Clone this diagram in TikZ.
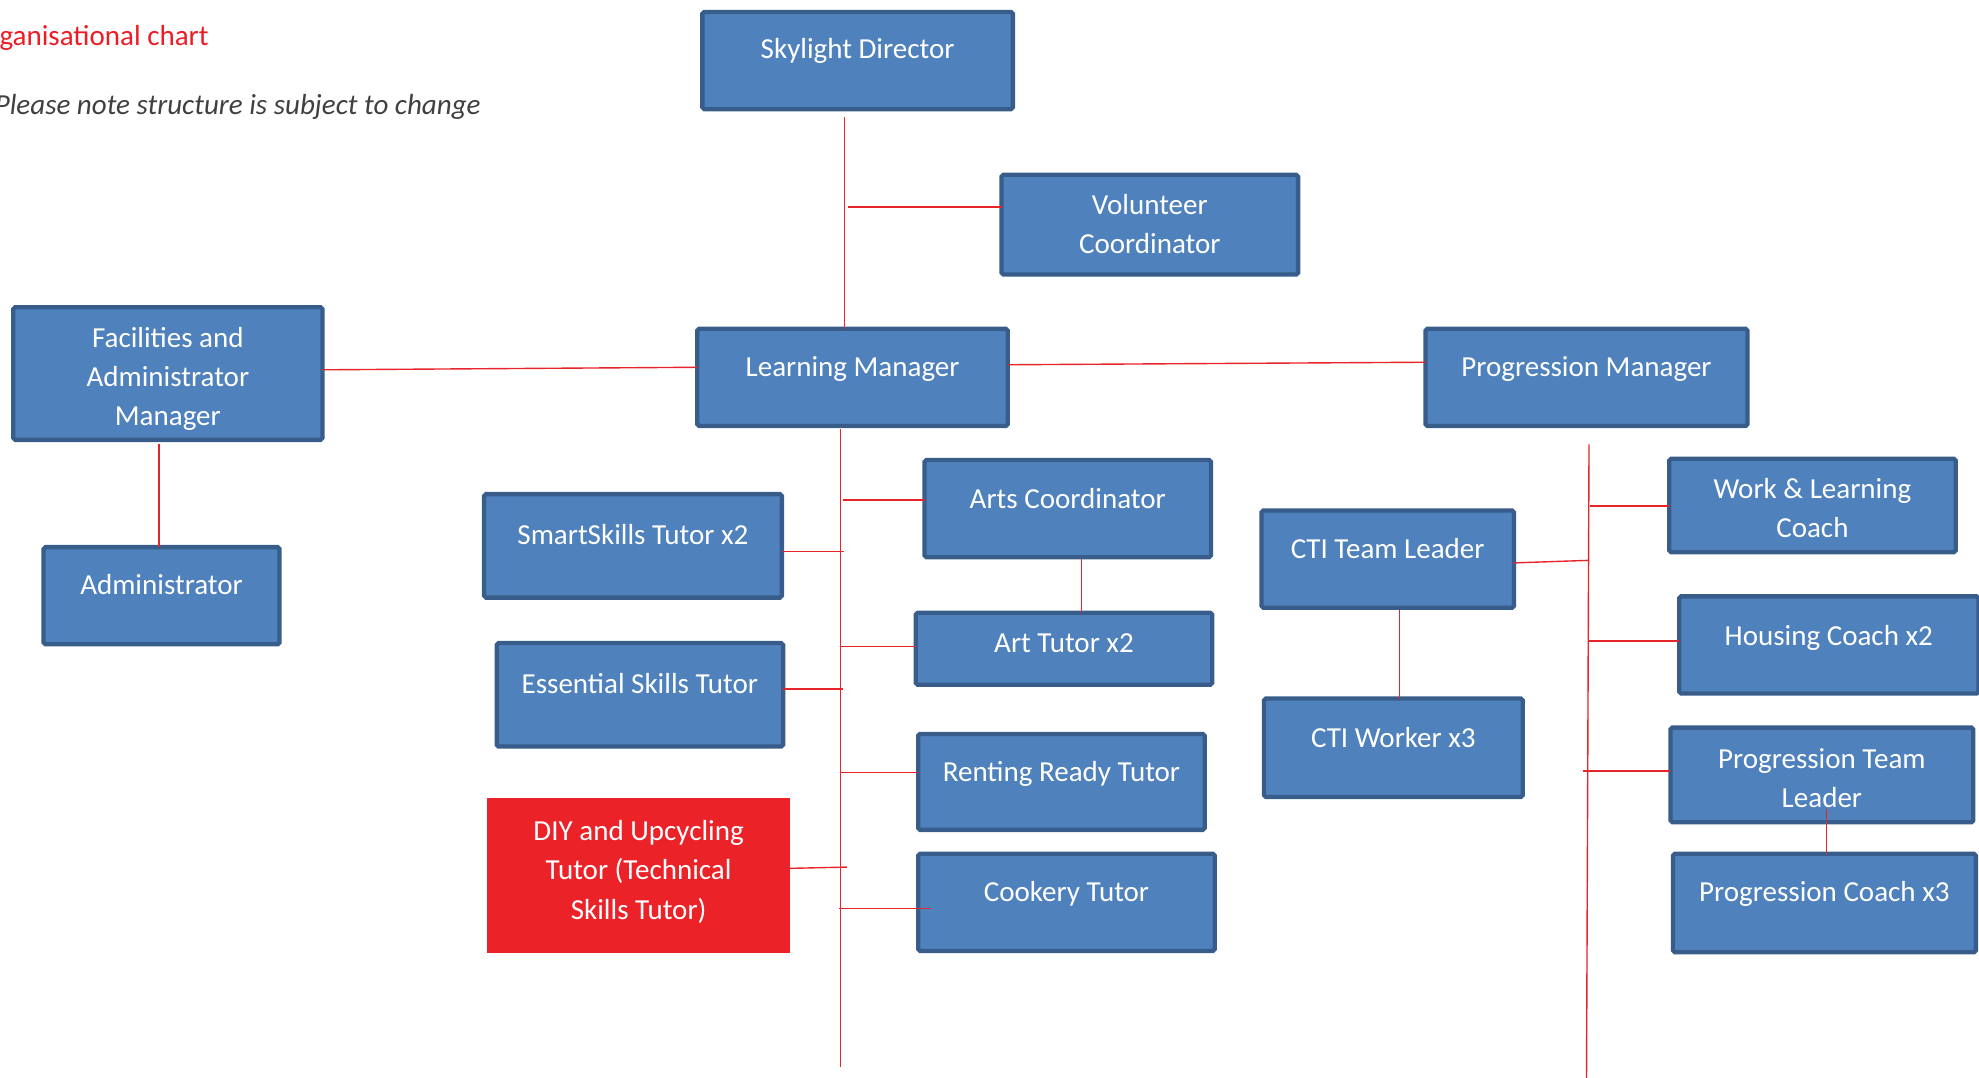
\documentclass[tikz,border=0pt]{standalone}
\usepackage{fontspec}
\setmainfont{Carlito}
\definecolor{boxfill}{HTML}{4F81BD}
\definecolor{boxline}{HTML}{385D8A}
\definecolor{linkred}{HTML}{E8242B}
\definecolor{diyred}{HTML}{EC2229}
\definecolor{titlered}{HTML}{EE1C25}
\definecolor{notegray}{HTML}{404040}
\newcommand\boxfont{\fontsize{23}{31}\selectfont}
\begin{document}
\begin{tikzpicture}[x=1pt,y=-1pt,
  orgbox/.style={draw=boxline, fill=boxfill, line width=3.4pt, rounded corners=1.5pt, inner sep=0pt, outer sep=0pt},
  redbox/.style={fill=diyred, draw=none, inner sep=0pt, outer sep=0pt},
  lbl/.style={text=white, font=\boxfont, align=center, inner sep=0pt, anchor=north, execute at begin node={\rule{0pt}{20pt}}},
  link/.style={draw=linkred, line width=1.1pt}]
\useasboundingbox (0,0) rectangle (1568,854);
\clip (0,0) rectangle (1568,854);

% headings
\node[anchor=base west, text=titlered, font=\boxfont, inner sep=0pt] (title) at (-23.5,36) {Organisational chart};
\node[anchor=base east, text=notegray, font=\boxfont\itshape, inner sep=0pt] (note) at (381,91) {Please note structure is subject to change};

% boxes
\node[orgbox, minimum width=246pt, minimum height=77pt] (sd) at (679.5,48) {};
\node[orgbox, minimum width=235pt, minimum height=79pt] (vc) at (911,178) {};
\node[orgbox, minimum width=245pt, minimum height=105pt] (fam) at (133,296) {};
\node[orgbox, minimum width=246pt, minimum height=77pt] (lm) at (675.5,299) {};
\node[orgbox, minimum width=255pt, minimum height=77pt] (pm) at (1257,299) {};
\node[orgbox, minimum width=187pt, minimum height=77pt] (adm) at (128,472) {};
\node[orgbox, minimum width=236pt, minimum height=82pt] (ss) at (501.5,432.5) {};
\node[orgbox, minimum width=227pt, minimum height=77pt] (ac) at (846,403) {};
\node[orgbox, minimum width=235pt, minimum height=57pt] (at) at (843,514) {};
\node[orgbox, minimum width=227pt, minimum height=82pt] (es) at (507,550.5) {};
\node[orgbox, minimum width=227pt, minimum height=76pt] (rr) at (841,619.5) {};
\node[redbox, minimum width=240pt, minimum height=123pt] (diy) at (506,693.5) {};
\node[orgbox, minimum width=235pt, minimum height=77pt] (ck) at (845,715) {};
\node[orgbox, minimum width=200pt, minimum height=77pt] (ctl) at (1099.5,443) {};
\node[orgbox, minimum width=205pt, minimum height=78pt] (ctw) at (1104,592.5) {};
\node[orgbox, minimum width=227pt, minimum height=74pt] (wl) at (1436,400.5) {};
\node[orgbox, minimum width=237pt, minimum height=77pt] (hc) at (1449,511) {};
\node[orgbox, minimum width=240pt, minimum height=75pt] (ptl) at (1443.5,614) {};
\node[orgbox, minimum width=240pt, minimum height=78pt] (pc) at (1445.5,715.5) {};

% labels
\node[lbl] (sdt) at (679.5,26) {Skylight Director};
\node[lbl] (vct) at (911,154) {Volunteer\\Coordinator};
\node[lbl] (famt) at (133,259) {Facilities and\\Administrator\\Manager};
\node[lbl] (lmt) at (675.5,278) {Learning Manager};
\node[lbl] (pmt) at (1257,278) {Progression Manager};
\node[lbl] (admt) at (128,451) {Administrator};
\node[lbl] (sst) at (501.5,411) {SmartSkills Tutor x2};
\node[lbl] (act) at (846,383) {Arts Coordinator};
\node[lbl] (att) at (843,497) {Art Tutor x2};
\node[lbl] (est) at (507,529) {Essential Skills Tutor};
\node[lbl] (rrt) at (841,599) {Renting Ready Tutor};
\node[lbl] (diyt) at (506,650) {DIY and Upcycling\\Tutor (Technical\\Skills Tutor)};
\node[lbl] (ckt) at (845,694) {Cookery Tutor};
\node[lbl] (ctlt) at (1099.5,422) {CTI Team Leader};
\node[lbl] (ctwt) at (1104,572) {CTI Worker x3};
\node[lbl] (wlt) at (1436,379) {Work \& Learning\\Coach};
\node[lbl] (hct) at (1449,491) {Housing Coach x2};
\node[lbl] (ptlt) at (1443.5,593) {Progression Team\\Leader};
\node[lbl] (pct) at (1445.5,694) {Progression Coach x3};

% connector points
\coordinate (sdl) at (669,93);
\coordinate (vcb) at (672,164);
\coordinate (famb) at (126,352);
\coordinate (lmtop) at (666,340);
\coordinate (lmbot) at (666,845);
\coordinate (s1) at (668,396);
\coordinate (s2) at (669,437);
\coordinate (s3) at (666,512);
\coordinate (s4) at (668,546);
\coordinate (s5) at (666,612);
\coordinate (s6) at (671,687);
\coordinate (s7) at (665,720);
\coordinate (cke) at (738,720);
\coordinate (acb) at (857,443);
\coordinate (pmtop) at (1259,352);
\coordinate (pmbot) at (1257,860);
\coordinate (p1) at (1260,401);
\coordinate (p2) at (1258,444);
\coordinate (p3) at (1258,508);
\coordinate (p4) at (1254,611);
\coordinate (ctlb) at (1109,483);
\coordinate (ptlb) at (1447,641);

% connectors
\draw[link] (sdl) -- (sdl |- lm.north);
\draw[link] (vcb) -- (vcb -| vc.west);
\draw[link] ([yshift=3pt]fam.east) -- ([yshift=8pt]lm.west);
\draw[link] ([yshift=10pt]lm.east) -- ([yshift=12pt]pm.west);
\draw[link] (famb) -- (famb |- adm.north);
\draw[link] (lmtop) -- (lmbot);
\draw[link] (s1) -- (s1 -| ac.west);
\draw[link] (s2) -- (s2 -| ss.east);
\draw[link] (s3) -- (s3 -| at.west);
\draw[link] (s4) -- (s4 -| es.east);
\draw[link] (s5) -- (s5 -| rr.west);
\draw[link] (s6) -- ([yshift=5.5pt]diy.east);
\draw[link] (s7) -- (cke);
\draw[link] (acb) -- (acb |- at.north);
\draw[link] (pmtop) -- (pmbot);
\draw[link] (p1) -- (p1 -| wl.west);
\draw[link] (p2) -- ([yshift=-3pt]ctl.east);
\draw[link] (p3) -- (p3 -| hc.west);
\draw[link] (p4) -- (p4 -| ptl.west);
\draw[link] (ctlb) -- (ctlb |- ctw.north);
\draw[link] (ptlb) -- (ptlb |- pc.north);
\end{tikzpicture}
\end{document}
